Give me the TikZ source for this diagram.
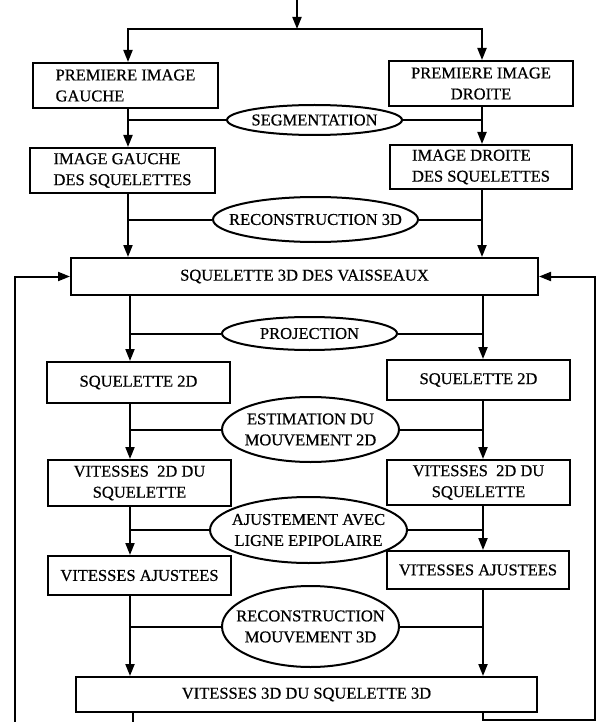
\documentclass[tikz,border=0pt]{standalone}
\usepackage{fontspec}
\setmainfont{Liberation Serif}[FakeBold=0.6]
\usetikzlibrary{arrows.meta,shapes.geometric}
\begin{document}
\begin{tikzpicture}[x=1pt,y=-1pt,
  every node/.style={font=\fontsize{16.5}{21}\selectfont},
  box/.style={draw,line width=2pt,rectangle,inner sep=0pt,align=center},
  ell/.style={draw,line width=2pt,ellipse,inner sep=0pt},
  lbl/.style={align=center,inner sep=0pt},
  ln/.style={line width=2pt},
  arr/.style={line width=2pt,-{Triangle[width=9pt,length=12pt]}}]
\useasboundingbox (0,0) rectangle (599,722);

% columns and junctions
\coordinate (cL) at (128,0);
\coordinate (cR) at (482,0);
\coordinate (dL) at (130,0);
\coordinate (dR) at (483,0);
\coordinate (top) at (297,0);
\coordinate (jn) at (297,29);
\coordinate (fbL) at (15,722);
\coordinate (fbR) at (595,720);
\coordinate (botL) at (133,722);

% boxes
\node[box,minimum width=185pt,minimum height=45pt,align=left] (pl) at (125.5,85.5) {PREMIERE IMAGE\\GAUCHE};
\node[box,minimum width=184pt,minimum height=45pt] (pr) at (481,83.5) {PREMIERE IMAGE\\DROITE};
\node[box,minimum width=185pt,minimum height=45pt,align=left] (sl) at (122.5,170.5) {IMAGE GAUCHE\\DES SQUELETTES};
\node[box,minimum width=182pt,minimum height=44pt,align=left] (sr) at (481,167) {IMAGE DROITE\\DES SQUELETTES};
\node[box,minimum width=467pt,minimum height=37pt] (s3d) at (304.5,276.5) {SQUELETTE 3D DES VAISSEAUX};
\node[box,minimum width=183pt,minimum height=41pt] (q2l) at (138.5,382.5) {SQUELETTE 2D};
\node[box,minimum width=183pt,minimum height=40pt] (q2r) at (478.5,380) {SQUELETTE 2D};
\node[box,minimum width=183pt,minimum height=46pt] (vl) at (139.5,483) {VITESSES\ \ 2D DU\\SQUELETTE};
\node[box,minimum width=183pt,minimum height=45pt] (vr) at (478.5,482.5) {VITESSES\ \ 2D DU\\SQUELETTE};
\node[box,minimum width=183pt,minimum height=39pt] (al) at (139.5,575.5) {VITESSES AJUSTEES};
\node[box,minimum width=182pt,minimum height=38pt] (ar) at (478,570) {VITESSES AJUSTEES};
\node[box,minimum width=461pt,minimum height=35pt] (v3d) at (306.5,694.5) {VITESSES 3D DU SQUELETTE 3D};

% ellipses
\node[ell,minimum width=175pt,minimum height=30pt] (seg) at (314.5,120) {};
\node[lbl] at (seg) {SEGMENTATION};
\node[ell,minimum width=205pt,minimum height=45pt] (rec) at (315.5,219.5) {};
\node[lbl] at (rec) {RECONSTRUCTION 3D};
\node[ell,minimum width=175pt,minimum height=33pt] (proj) at (309.5,333.5) {};
\node[lbl] at (proj) {PROJECTION};
\node[ell,minimum width=177pt,minimum height=65pt] (est) at (310.5,429.5) {};
\node[lbl] at (est) {ESTIMATION DU\\MOUVEMENT 2D};
\node[ell,minimum width=197pt,minimum height=66pt] (ajt) at (308.5,530) {};
\node[lbl] at (ajt) {AJUSTEMENT AVEC\\LIGNE EPIPOLAIRE};
\node[ell,minimum width=177pt,minimum height=81pt] (rmv) at (310.5,626.5) {};
\node[lbl] at (rmv) {RECONSTRUCTION\\MOUVEMENT 3D};

% top split
\draw[arr] (top) -- (jn);
\draw[arr] (jn) -| (pl.north -| cL);
\draw[arr] (jn) -| (pr.north -| cR);

% vertical arrows
\draw[arr] (pl.south -| cL) -- (sl.north -| cL);
\draw[arr] (pr.south -| cR) -- (sr.north -| cR);
\draw[arr] (sl.south -| cL) -- (s3d.north -| cL);
\draw[arr] (sr.south -| cR) -- (s3d.north -| cR);
\draw[arr] (s3d.south -| dL) -- (q2l.north -| dL);
\draw[arr] (s3d.south -| dR) -- (q2r.north -| dR);
\draw[arr] (q2l.south -| dL) -- (vl.north -| dL);
\draw[arr] (q2r.south -| dR) -- (vr.north -| dR);
\draw[arr] (vl.south -| dL) -- (al.north -| dL);
\draw[arr] (vr.south -| dR) -- (ar.north -| dR);
\draw[arr] (al.south -| dL) -- (v3d.north -| dL);
\draw[arr] (ar.south -| dR) -- (v3d.north -| dR);

% ellipse links
\draw[ln] (seg.west) -- (seg.west -| cL);
\draw[ln] (seg.east) -- (seg.east -| cR);
\draw[ln] (rec.west) -- (rec.west -| cL);
\draw[ln] (rec.east) -- (rec.east -| cR);
\draw[ln] (proj.west) -- (proj.west -| dL);
\draw[ln] (proj.east) -- (proj.east -| dR);
\draw[ln] (est.west) -- (est.west -| dL);
\draw[ln] (est.east) -- (est.east -| dR);
\draw[ln] (ajt.west) -- (ajt.west -| dL);
\draw[ln] (ajt.east) -- (ajt.east -| dR);
\draw[ln] (rmv.west) -- (rmv.west -| dL);
\draw[ln] (rmv.east) -- (rmv.east -| dR);

% feedback loops
\draw[arr] (fbL) |- (s3d.west);
\draw[ln] (v3d.south -| botL) -- (botL);
\draw[arr] (v3d.south -| dR) |- (fbR) |- (s3d.east);
\end{tikzpicture}
\end{document}
